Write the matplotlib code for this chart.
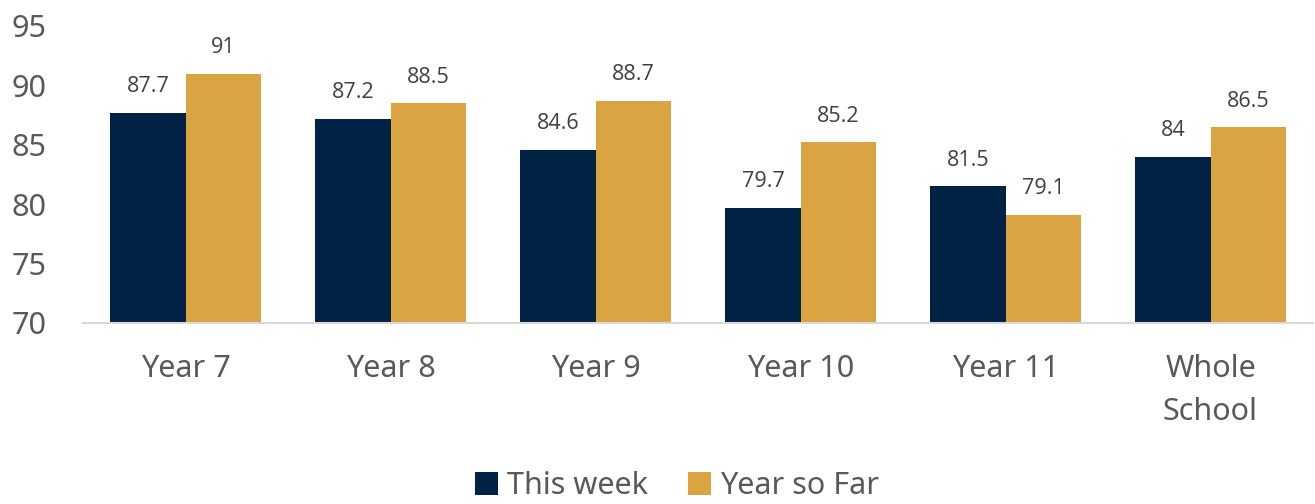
import matplotlib
matplotlib.use("Agg")
import matplotlib.pyplot as plt
import numpy as np

categories = ["Year 7", "Year 8", "Year 9", "Year 10", "Year 11", "Whole\nSchool"]
this_week = [87.7, 87.2, 84.6, 79.7, 81.5, 84]
year_so_far = [91, 88.5, 88.7, 85.2, 79.1, 86.5]
yticks = [70, 75, 80, 85, 90, 95]

navy = "#002245"
gold = "#D9A441"
grey = "#595959"

plt.rcParams['font.family'] = ['Noto Sans', 'DejaVu Sans']

fig = plt.figure(figsize=(13.15, 5.04), dpi=100)
ax = fig.add_axes([83/1315, 1-323/504, 1230/1315, 297/504])

x = np.arange(len(categories))
w = 0.366
b1 = ax.bar(x - w/2, np.array(this_week) - 70, w, bottom=70, color=navy, label="This week")
b2 = ax.bar(x + w/2, np.array(year_so_far) - 70, w, bottom=70, color=gold, label="Year so Far")

for bars, vals in ((b1, this_week), (b2, year_so_far)):
    for r, v in zip(bars, vals):
        ax.text(r.get_x() + r.get_width()/2, v + 1.3, f"{v:g}", ha="center", va="bottom",
                fontsize=15.5, color="#404040", family=['Open Sans', 'DejaVu Sans'])

ax.set_xlim(-0.5, len(categories) - 0.5)
ax.set_ylim(70, 95)
ax.set_yticks(yticks)
ax.set_xticks(x)
ax.set_xticklabels(categories, fontsize=22, color=grey, linespacing=1.6)
ax.tick_params(axis='y', labelsize=22, labelcolor=grey, length=0, pad=26)
ax.tick_params(axis='x', length=0, pad=22)
for s in ["top", "right", "left"]:
    ax.spines[s].set_visible(False)
ax.spines["bottom"].set_color("#D9D9D9")
ax.spines["bottom"].set_linewidth(1.5)

leg = fig.legend(handles=[b1, b2], loc="center", bbox_to_anchor=(677/1315, 1-486/504), ncol=2,
                 frameon=False, fontsize=22, handlelength=0.75, handleheight=0.75,
                 handletextpad=0.3, columnspacing=1.3, borderpad=0)
for t in leg.get_texts():
    t.set_color(grey)

fig.savefig("out.png", dpi=100)
